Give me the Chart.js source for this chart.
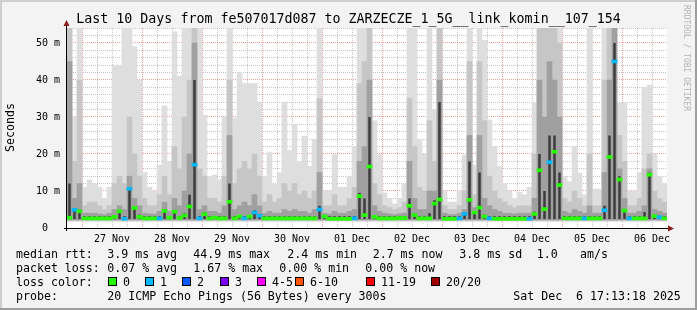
<!DOCTYPE html>
<html><head><meta charset="utf-8">
<script src="https://cdn.jsdelivr.net/npm/chart.js@4/dist/chart.umd.min.js"></script>
<style>
html,body{margin:0;padding:0;background:#f3f3f3;}
#wrap{position:relative;width:697px;height:310px;overflow:hidden;font-family:"DejaVu Sans Mono",monospace;color:#000;}
#c{position:absolute;left:0;top:0;}
.t{position:absolute;white-space:pre;font-size:11.6px;line-height:14px;}
.box{position:absolute;width:7px;height:7px;border:1px solid #000;top:277px;}
#title{position:absolute;left:0;top:11px;width:697px;text-align:center;font-size:13.3px;line-height:16px;white-space:pre;}
#ylab{position:absolute;left:4px;top:103px;font-size:11.6px;line-height:12px;writing-mode:vertical-rl;transform:rotate(180deg);}
#rrd{position:absolute;left:682px;top:5px;font-size:8px;line-height:8px;writing-mode:vertical-rl;color:#b4b4b4;}
.bt{position:absolute;left:0;top:0;width:697px;height:2px;background:#cfcfcf;}
.bl{position:absolute;left:0;top:0;width:2px;height:310px;background:#cfcfcf;}
.bb{position:absolute;left:0;top:308px;width:697px;height:2px;background:#9e9e9e;}
.br{position:absolute;left:695px;top:0;width:2px;height:310px;background:#9e9e9e;}
</style></head>
<body>
<div id="wrap">
<canvas id="c" width="697" height="310"></canvas>
<div id="title">Last 10 Days from fe507017d087 to ZARZECZE_1_5G__link_komin__107_154</div>
<div id="ylab">Seconds</div>
<div id="rrd">RRDTOOL / TOBI OETIKER</div>
<div id="legend"></div>
<div class="bt"></div><div class="bl"></div><div class="bb"></div><div class="br"></div>
</div>
<script>
// ---- data (one value per 2-hour slot, starting Nov 26 18:00) ----
const dayLabels = ['27 Nov','28 Nov','29 Nov','30 Nov','01 Dec','02 Dec','03 Dec','04 Dec','05 Dec','06 Dec'];
const yTickLabels = ['0  ','10 m','20 m','30 m','40 m','50 m'];
const axisStartHour = -6, axisEndHour = 234, slotHours = 2;
const yMaxMs = 54.05;
const minRtt = 1.8;

// outer (lightest) smoke envelope, ms
const smokeMax = [
60,30,60,11,13,12,11,8,11,44,
44,54,60,49,40,15,11,10,17,33,
18,53,41,60,60,60,54,30.5,14,14.3,
13,30,60,29.7,42,39,39,39,34,14,
20.4,12,15,34,21,28,18,24.8,16.6,24,
60,10,10,19.8,11,11,14,22,60,60,
60,29,19.8,9.5,8,6.5,8,12,60,54,
24,20,60,31.8,60,10,7,7,10,19.7,
60,17,60,50.7,29.2,22,16.6,12,10,8,
9.7,9,11,34,60,60,60,60,60,14,
12.5,22,14.8,9,60,10.5,10.5,60,60,60,
33.8,33.8,10,10,15,38,38.6,20,14,12];
const smokeHigh = [
60,18,40,6,7,7,6,5,6,12,
14,12,30,20,14,8,6,6,9,14,
9,22,16,30,40,60,16,14,8,8,
7,14,40,12,16,18,16,20,14,7,
9,7,8,12,10,12,9,10,8,10,
35,6,6,9,6,6,8,11,39,45,
60,12,9,6,5.5,5,5.5,7,35,22,
11,10,29,18,60,6,5,5,6,10,
45,9,45,29,14,10,8,7,6,5.5,
6,6,6,20,60,60,60,60,50,8,
7,10,8,6,20,6,6,40,60,60,
25,18,6,6,8,16,20,10,8,7];
const smokeMid = [
45,8,12,4,4,4,3.8,3.6,4,5,
6,5,14,8,6,4,3.8,3.8,4.5,7,
4.5,8,6,10,20,50,5,6,4.5,4.5,
4,6,25,5,6,7,6,9,6,4,
4.5,4,4,5,4.5,5,4.5,4.5,4,5,
15,4,3.8,4.5,4,4,4.5,5,18,22,
40,6,4.5,4,3.8,3.6,3.8,4,18,8,
5,5,10,10,40,4,3.6,3.6,4,5,
25,5.5,25,8,6,5,4.5,4,4,3.8,
4,4,4,8,40,30,45,40,30,4.5,
4,5,4.5,4,6,4,4,15,40,55,
16,8,4,4,4.5,6,16,5,4.5,4];
const smokeCore = [
12,5,5,3.2,3.2,3.2,3.2,3.2,3.2,3.4,
4.8,3.2,11,5.8,3.6,3.2,3.2,3.2,3.2,5,
3.2,4.8,3.2,4,9,40,3.2,4.2,3.2,3.2,
3.2,3.2,12,3.2,3.5,3.2,3.5,4.8,3.8,3.2,
3.2,3.2,3.2,3.2,3.2,3.2,3.2,3.2,3.2,3.2,
6,3.4,3.2,3.2,3.2,3.2,3.2,3.2,9.5,8,
30,3.5,3.2,3.2,3.2,3.2,3.2,3.2,8,4,
3.2,3.2,4,7.5,34,3.2,3.2,3.2,3.2,4.2,
18,4.6,15,3.6,3.2,3.2,3.2,3.2,3.2,3.2,
3.2,3.2,3.2,4.4,20,10,25,25,15,3.2,
3.2,3.2,3.2,3.2,3.2,3.2,3.2,6,25,50,
14,5,3.2,3.2,3.2,4.3,15,3.6,3.3,3.2];
const medianRtt = [
2.8,4.9,4.5,2.6,2.6,2.6,2.6,2.6,2.6,3.0,
4.5,2.5,10.6,5.4,3.0,2.6,2.6,2.6,2.6,4.6,
2.8,4.4,2.7,3.4,5.8,17.1,2.6,3.7,2.6,2.8,
2.6,2.6,7.1,2.6,3.1,2.6,3.1,4.2,3.3,2.6,
2.6,2.6,2.6,2.6,2.6,2.6,2.6,2.6,2.6,2.6,
5.0,3.1,2.5,2.5,2.5,2.5,2.5,2.6,8.6,3.5,
16.6,3.0,2.6,2.6,2.6,2.6,2.7,2.7,6.0,3.5,
2.6,2.6,2.6,6.6,7.7,2.5,2.5,2.5,2.6,3.8,
7.6,4.2,5.5,3.1,2.6,2.5,2.5,2.5,2.5,2.5,
2.5,2.5,2.5,3.8,15.6,5.1,17.8,20.6,11.6,2.6,
2.6,2.6,2.6,2.6,2.6,2.6,2.6,4.8,19.2,45,
13.1,4.7,2.6,2.6,2.6,2.6,14.4,3.2,2.9,2.6];
const lossCount = [
0,1,0,0,0,0,0,0,0,0,
0,1,1,0,0,0,0,0,1,0,
0,0,0,0,0,1,1,0,0,0,
0,0,0,0,0,1,0,1,1,0,
0,0,0,0,0,0,0,0,0,0,
1,0,0,0,0,0,0,1,0,0,
0,0,0,0,0,0,0,0,0,0,
0,0,0,0,0,0,0,0,1,1,
0,0,0,0,1,0,0,0,0,0,
0,0,1,0,0,0,1,0,0,0,
0,0,0,1,0,0,0,1,0,1,
0,0,1,0,0,0,0,0,1,0];

const lossLegend = ['0','1','2','3','4-5','6-10','11-19','20/20'];
const lossColors = ['#26ff00','#00b8ff','#0059ff','#7e00ff','#ff00ff','#ff5500','#ff0000','#a10000'];

const statRows = [
  [['median rtt:',16],['3.9 ms avg',107.3],['44.9 ms max',193.3],['2.4 ms min',287.3],['2.7 ms now',372.7],['3.8 ms sd',459.3],['1.0',536.7],['am/s',580]],
  [['packet loss:',16],['0.07 % avg',107.3],['1.67 % max',193.3],['0.00 % min',279.3],['0.00 % now',365.3]],
  [['loss color:',16]],
  [['probe:',16],['20 ICMP Echo Pings (56 Bytes) every 300s',107.3],['Sat Dec  6 17:13:18 2025',513.3]]
];
const lossBoxX = [108,145,182,220,257,295,366,431];

// ---- legend text ----
const lg = document.getElementById('legend');
statRows.forEach((row, r) => {
  row.forEach(([txt, x]) => {
    const d = document.createElement('div');
    d.className = 't'; d.textContent = txt;
    d.style.left = x + 'px'; d.style.top = (246.5 + 14 * r) + 'px';
    lg.appendChild(d);
  });
});
lossLegend.forEach((name, k) => {
  const b = document.createElement('div');
  b.className = 'box'; b.style.left = lossBoxX[k] + 'px'; b.style.background = lossColors[k];
  lg.appendChild(b);
  const d = document.createElement('div');
  d.className = 't'; d.textContent = name;
  d.style.left = (lossBoxX[k] + 15) + 'px'; d.style.top = (246.5 + 28) + 'px';
  lg.appendChild(d);
});

// ---- chart ----
const xs = medianRtt.map((_, i) => axisStartHour + slotHours * (i + 0.5));
const band = (arr, lo) => arr.map((h, i) => ({x: xs[i], y: [lo, h]}));
const barBase = {type: 'bar', grouped: false, barPercentage: 1, categoryPercentage: 1, borderWidth: 0, borderSkipped: false};

const datasets = [
  Object.assign({}, barBase, {label: 'median', data: medianRtt.map((m, i) => ({x: xs[i], y: [m - 0.4, m + 0.4]})),
    backgroundColor: lossCount.map(c => lossColors[c])}),
  Object.assign({}, barBase, {label: 'core', data: band(smokeCore, 2.4), backgroundColor: '#3c3c3c', barPercentage: 0.5}),
  Object.assign({}, barBase, {label: 'mid', data: band(smokeMid, 2.2), backgroundColor: '#a0a0a0'}),
  Object.assign({}, barBase, {label: 'high', data: band(smokeHigh, 2.0), backgroundColor: '#c6c6c6'}),
  Object.assign({}, barBase, {label: 'max', data: band(smokeMax, minRtt), backgroundColor: '#dedede'})
];

const bgPlugin = {
  id: 'bg',
  beforeDraw(chart) {
    const {ctx, chartArea: a} = chart;
    ctx.save();
    ctx.fillStyle = '#f3f3f3'; ctx.fillRect(0, 0, chart.width, chart.height);
    ctx.fillStyle = '#ffffff'; ctx.fillRect(a.left, a.top, a.right - a.left, a.bottom - a.top);
    ctx.restore();
  }
};
const axisPlugin = {
  id: 'axes',
  afterDraw(chart) {
    const {ctx, chartArea: a} = chart;
    ctx.save();
    ctx.strokeStyle = '#000'; ctx.lineWidth = 1;
    ctx.beginPath();
    ctx.moveTo(a.left - 3, a.bottom + 0.5); ctx.lineTo(a.right + 2, a.bottom + 0.5);
    ctx.moveTo(a.left - 0.5, a.bottom + 3); ctx.lineTo(a.left - 0.5, a.top - 2);
    ctx.stroke();
    ctx.fillStyle = '#8b1c1c';
    ctx.beginPath();
    ctx.moveTo(a.right + 1, a.bottom - 2.5); ctx.lineTo(a.right + 1, a.bottom + 3.5); ctx.lineTo(a.right + 7, a.bottom + 0.5); ctx.closePath(); ctx.fill();
    ctx.beginPath();
    ctx.moveTo(a.left - 3.5, a.top - 2); ctx.lineTo(a.left + 2.5, a.top - 2); ctx.lineTo(a.left - 0.5, a.top - 8); ctx.closePath(); ctx.fill();
    ctx.restore();
  }
};

const minorGrid = 'rgba(120,120,120,0.42)';
const majorGrid = 'rgba(225,60,60,0.5)';
const hidden = {display: false};
const zeroH = s => { s.height = 0; };
const zeroW = s => { s.width = 0; };

new Chart(document.getElementById('c'), {
  type: 'bar',
  data: {datasets},
  plugins: [bgPlugin, axisPlugin],
  options: {
    responsive: false, animation: false, devicePixelRatio: 1,
    layout: {padding: {top: 28, right: 30, bottom: 0, left: 0}},
    plugins: {legend: hidden, tooltip: {enabled: false}, title: hidden},
    scales: {
      x: {type: 'linear', offset: false, min: axisStartHour, max: axisEndHour, position: 'bottom', z: 2,
        grid: {display: false, offset: false}, border: {display: false},
        ticks: {font: {family: 'DejaVu Sans Mono', size: 10}, color: '#000', padding: -3, maxRotation: 0, autoSkip: false,
          callback: (v, i) => dayLabels[i]},
        afterBuildTicks: s => { s.ticks = dayLabels.map((_, k) => ({value: 12 + 24 * k})); },
        afterFit: s => { s.height = 82; }},
      xMajor: {type: 'linear', offset: false, min: axisStartHour, max: axisEndHour, position: 'bottom', z: 1,
        grid: {color: majorGrid, drawTicks: false, offset: false}, border: {display: false, dash: [1, 1]},
        ticks: {display: false},
        afterBuildTicks: s => { s.ticks = dayLabels.map((_, k) => ({value: 24 * k})); },
        afterFit: zeroH},
      xMinor: {type: 'linear', offset: false, min: axisStartHour, max: axisEndHour, position: 'bottom', z: 1,
        grid: {color: minorGrid, drawTicks: false, offset: false}, border: {display: false, dash: [1, 1]},
        ticks: {display: false},
        afterBuildTicks: s => { const t = []; for (let h = 6; h < axisEndHour; h += 6) if (h % 24) t.push({value: h}); s.ticks = t; },
        afterFit: zeroH},
      y: {type: 'linear', min: 0, max: yMaxMs, position: 'left', z: 1,
        grid: {color: majorGrid, drawTicks: false}, border: {display: false, dash: [1, 1]},
        ticks: {font: {family: 'DejaVu Sans Mono', size: 10}, color: '#000', padding: 7, callback: (v, i) => yTickLabels[i]},
        afterBuildTicks: s => { s.ticks = yTickLabels.map((_, k) => ({value: 10 * k})); },
        afterFit: s => { s.width = 67; }},
      yMinor: {type: 'linear', min: 0, max: yMaxMs, position: 'left', z: 1,
        grid: {color: minorGrid, drawTicks: false}, border: {display: false, dash: [1, 1]},
        ticks: {display: false},
        afterBuildTicks: s => { const t = []; for (let v = 2; v < yMaxMs; v += 2) if (v % 10) t.push({value: v}); s.ticks = t; },
        afterFit: zeroW}
    }
  }
});
</script>
</body></html>
